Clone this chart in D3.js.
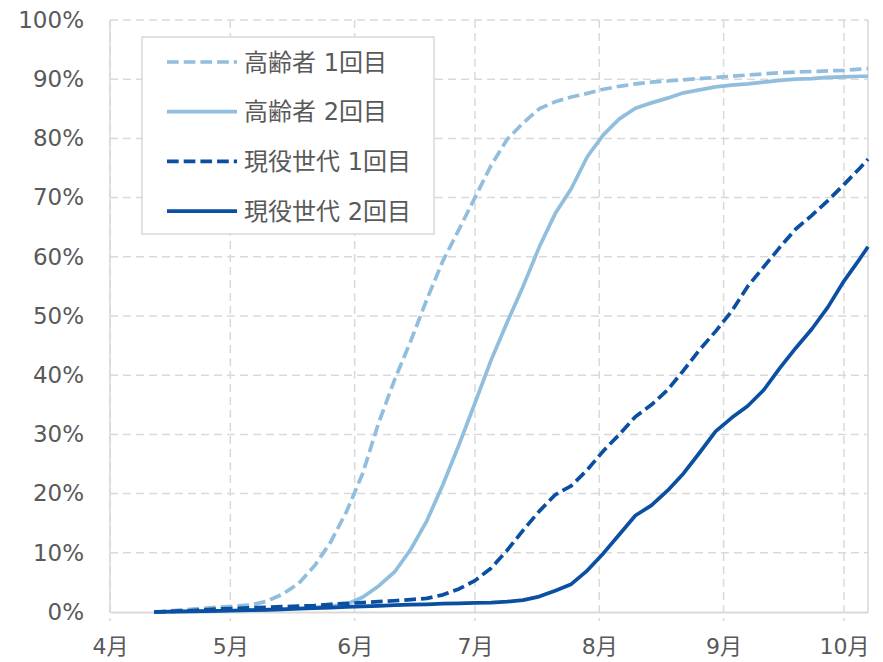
<!DOCTYPE html>
<html lang="ja">
<head>
<meta charset="utf-8">
<script src="https://cdn.jsdelivr.net/npm/d3@7/dist/d3.min.js"></script>
<style>
  html, body { margin: 0; padding: 0; background: #ffffff; }
  svg { display: block; }
  text { font-family: "DejaVu Sans", "Noto Sans CJK JP", sans-serif; fill: #595959; }
</style>
</head>
<body>
<svg id="chart" width="883" height="662"></svg>
<script>
// Sample dates (2021), roughly every four days
const dates = [
  "2021-04-12","2021-04-16","2021-04-20","2021-04-24","2021-04-28","2021-05-02",
  "2021-05-06","2021-05-10","2021-05-14","2021-05-18","2021-05-22","2021-05-26",
  "2021-05-30","2021-06-03","2021-06-07","2021-06-11","2021-06-15","2021-06-19",
  "2021-06-23","2021-06-27","2021-07-01","2021-07-05","2021-07-09","2021-07-13",
  "2021-07-17","2021-07-21","2021-07-25","2021-07-29","2021-08-02","2021-08-06",
  "2021-08-10","2021-08-14","2021-08-18","2021-08-22","2021-08-26","2021-08-30",
  "2021-09-03","2021-09-07","2021-09-11","2021-09-15","2021-09-19","2021-09-23",
  "2021-09-27","2021-10-01","2021-10-05","2021-10-07"
];

// Vaccination rate (%) — elderly, 1st dose
const elderly1 = [
  0, 0.2, 0.4, 0.6, 0.8, 1.0,
  1.2, 1.8, 3.0, 4.8, 7.8, 11.8,
  17.0, 23.4, 32.0, 39.3, 45.8, 52.8,
  59.3, 64.6, 70.0, 75.4, 79.8, 82.6,
  85.0, 86.2, 87.0, 87.6, 88.3, 88.8,
  89.2, 89.5, 89.7, 89.9, 90.1, 90.3,
  90.5, 90.7, 90.9, 91.1, 91.2, 91.3,
  91.4, 91.5, 91.7, 91.8
];

// Elderly, 2nd dose
const elderly2 = [
  0, 0, 0.05, 0.1, 0.15, 0.2,
  0.3, 0.4, 0.5, 0.6, 0.8, 1.0,
  1.3, 2.5, 4.4, 6.8, 10.6, 15.4,
  21.5, 28.2, 35.3, 42.5, 48.9, 55.0,
  61.6, 67.3, 71.5, 76.9, 80.6, 83.3,
  85.1, 86.0, 86.8, 87.7, 88.2, 88.7,
  89.0, 89.2, 89.5, 89.8, 90.0, 90.1,
  90.3, 90.4, 90.5, 90.5
];

// Working-age, 1st dose
const working1 = [
  0, 0.1, 0.2, 0.35, 0.5, 0.6,
  0.7, 0.8, 0.9, 1.0, 1.1, 1.3,
  1.45, 1.6, 1.75, 1.9, 2.1, 2.3,
  2.9, 3.9, 5.3, 7.4, 10.4, 13.8,
  17.0, 19.8, 21.3, 24.0, 27.2, 30.0,
  33.0, 35.0, 37.5, 40.8, 44.3, 47.4,
  50.8, 55.0, 58.3, 61.6, 64.7, 67.0,
  69.5, 72.2, 75.0, 76.5
];

// Working-age, 2nd dose
const working2 = [
  0, 0.05, 0.1, 0.15, 0.2, 0.25,
  0.3, 0.35, 0.45, 0.55, 0.65, 0.75,
  0.85, 0.95, 1.05, 1.15, 1.25, 1.3,
  1.4, 1.45, 1.55, 1.6, 1.75, 2.0,
  2.6, 3.6, 4.7, 7.0, 9.9, 13.1,
  16.3, 18.0, 20.5, 23.4, 26.9, 30.5,
  32.8, 34.8, 37.5, 41.2, 44.6, 47.8,
  51.5, 55.9, 59.7, 61.7
];

const seriesNames = ["高齢者 1回目", "高齢者 2回目", "現役世代 1回目", "現役世代 2回目"];
const yTicks = [0, 10, 20, 30, 40, 50, 60, 70, 80, 90, 100];
const monthTicks = ["2021-04-01","2021-05-01","2021-06-01","2021-07-01","2021-08-01","2021-09-01","2021-10-01"];

const LIGHT = "#92bedd";
const DARK = "#0b4fa3";
const DASH = "11.7,5";
const FONT = '"DejaVu Sans", "Noto Sans CJK JP", sans-serif';

const parse = d3.timeParse("%Y-%m-%d");
const series = [
  { name: seriesNames[0], values: elderly1, color: LIGHT, dash: DASH },
  { name: seriesNames[1], values: elderly2, color: LIGHT, dash: null },
  { name: seriesNames[2], values: working1, color: DARK, dash: DASH },
  { name: seriesNames[3], values: working2, color: DARK, dash: null }
];

const plot = { left: 110, right: 868, top: 20, bottom: 612 };
const svg = d3.select("#chart");

const x = d3.scaleTime()
  .domain([parse("2021-04-01"), parse("2021-10-07")])
  .range([plot.left, plot.right]);
const y = d3.scaleLinear().domain([0, 100]).range([plot.bottom, plot.top]);

const GRID = "#d9d9d9";

// Horizontal gridlines
svg.append("g")
  .selectAll("line")
  .data(yTicks.filter(v => v > 0))
  .join("line")
  .attr("x1", plot.left).attr("x2", plot.right)
  .attr("y1", d => y(d)).attr("y2", d => y(d))
  .attr("stroke", GRID).attr("stroke-width", 1.5)
  .attr("stroke-dasharray", "8,5");

// Vertical gridlines at each month, running a little below the axis as tick marks
svg.append("g")
  .selectAll("line")
  .data(monthTicks.map(parse))
  .join("line")
  .attr("x1", d => x(d)).attr("x2", d => x(d))
  .attr("y1", plot.top).attr("y2", plot.bottom + 9)
  .attr("stroke", GRID).attr("stroke-width", 1.5)
  .attr("stroke-dasharray", "8,5");

// Plot frame
svg.append("line")
  .attr("x1", plot.left).attr("x2", plot.left)
  .attr("y1", plot.top).attr("y2", plot.bottom)
  .attr("stroke", GRID).attr("stroke-width", 1.5);
svg.append("line")
  .attr("x1", plot.right).attr("x2", plot.right)
  .attr("y1", plot.top).attr("y2", plot.bottom)
  .attr("stroke", GRID).attr("stroke-width", 1.5);

// X axis
const xAxis = d3.axisBottom(x)
  .tickValues(monthTicks.map(parse))
  .tickFormat(d => (d.getMonth() + 1) + "月")
  .tickSize(0)
  .tickPadding(26);
const gx = svg.append("g")
  .attr("transform", `translate(0,${plot.bottom})`)
  .call(xAxis);
gx.select(".domain").attr("stroke", GRID).attr("stroke-width", 2);
gx.selectAll("text")
  .attr("font-size", 22)
  .style("font-family", FONT)
  .attr("fill", "#595959");

// Y axis labels
const yAxis = d3.axisLeft(y)
  .tickValues(yTicks)
  .tickFormat(d => d + "%")
  .tickSize(0)
  .tickPadding(26);
const gy = svg.append("g")
  .attr("transform", `translate(${plot.left},0)`)
  .call(yAxis);
gy.select(".domain").remove();
gy.selectAll("text")
  .attr("font-size", 23)
  .style("font-family", FONT)
  .attr("fill", "#595959");

// Lines
const line = d3.line()
  .x((d, i) => x(parse(dates[i])))
  .y(d => y(d));

svg.append("g")
  .selectAll("path")
  .data(series)
  .join("path")
  .attr("d", s => line(s.values))
  .attr("fill", "none")
  .attr("stroke", s => s.color)
  .attr("stroke-width", 3.7)
  .attr("stroke-linejoin", "round")
  .attr("stroke-dasharray", s => s.dash);

// Legend
const legend = svg.append("g");
legend.append("rect")
  .attr("x", 142).attr("y", 37)
  .attr("width", 292).attr("height", 197)
  .attr("fill", "#ffffff")
  .attr("stroke", GRID).attr("stroke-width", 1.5);

const rows = legend.selectAll("g.row")
  .data(series)
  .join("g")
  .attr("class", "row")
  .attr("transform", (d, i) => `translate(0,${62 + i * 49.7})`);
rows.append("line")
  .attr("x1", 167).attr("x2", 237)
  .attr("y1", 0).attr("y2", 0)
  .attr("stroke", d => d.color)
  .attr("stroke-width", 3.7)
  .attr("stroke-dasharray", d => d.dash);
rows.append("text")
  .attr("x", 244)
  .attr("y", 0)
  .attr("dy", "0.36em")
  .attr("font-size", 24)
  .style("font-family", FONT)
  .text(d => d.name);
</script>
</body>
</html>
